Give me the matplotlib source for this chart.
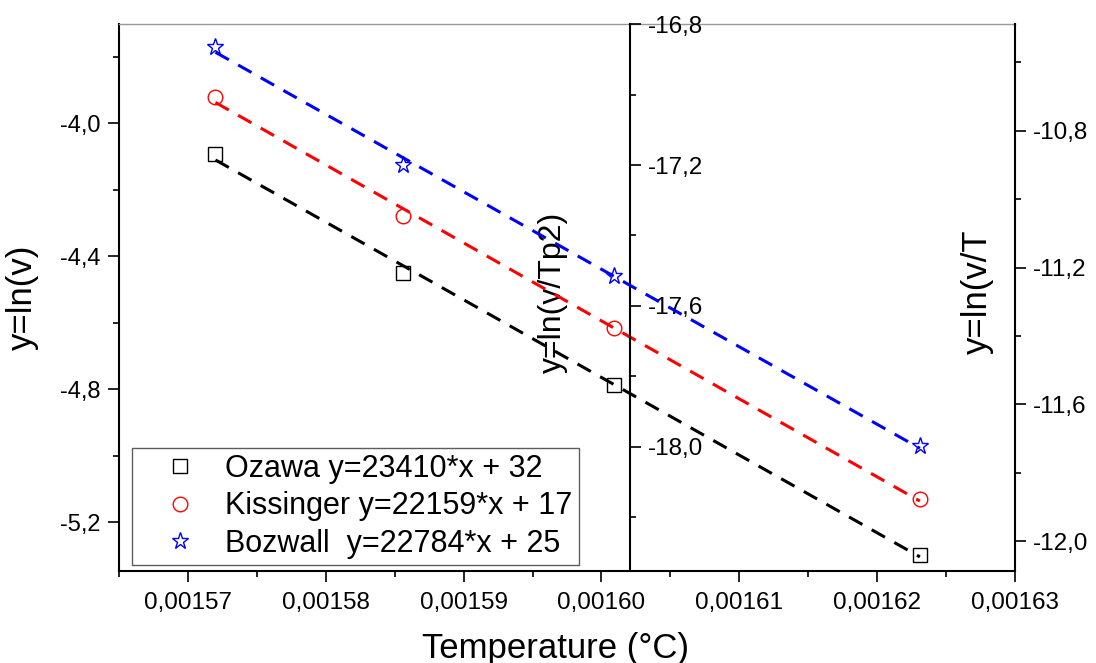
import numpy as np
import matplotlib
matplotlib.use("Agg")
import matplotlib.pyplot as plt
from matplotlib.ticker import MultipleLocator, FuncFormatter
from matplotlib.lines import Line2D

plt.rcParams['font.family'] = ['Liberation Sans', 'DejaVu Sans']

# Inverse peak temperature (x) and the three linearised rate quantities
inv_temp = [0.001572, 0.0015856, 0.0016009, 0.0016231]
ln_v = [-4.094, -4.451, -4.787, -5.298]          # Ozawa
ln_v_tp2 = [-17.007, -17.345, -17.662, -18.148]  # Kissinger
ln_v_t = [-10.555, -10.899, -11.226, -11.723]    # Bozwall

series_labels = ["Ozawa y=23410*x + 32",
                 "Kissinger y=22159*x + 17",
                 "Bozwall  y=22784*x + 25"]


def comma_fmt(decimals):
    return FuncFormatter(lambda v, p: f"{v:.{decimals}f}".replace('.', ','))


fig = plt.figure(figsize=(10.96, 6.63), dpi=100)
ax = fig.add_axes([119 / 1096, 92 / 663, 896 / 1096, 547 / 663])
ax_mid = ax.twinx()
ax_right = ax.twinx()

TICK_FS = 17.5
LABEL_FS = 25
LEGEND_FS = 22
dash = (0, (5, 3.5))

x = np.array(inv_temp)
specs = [
    (ax, ln_v, 'black', 's', 10),
    (ax_mid, ln_v_tp2, '#ff0000', 'o', 10.5),
    (ax_right, ln_v_t, '#0000ff', '*', 12.5),
]
handles = []
for a, yv, col, mk, ms in specs:
    yv = np.array(yv)
    k, b = np.polyfit(x, yv, 1)
    xx = np.array([x[0], x[-1]])
    a.plot(xx, k * xx + b, color=col, lw=2.2, linestyle=dash, zorder=2)
    a.plot(x, yv, linestyle='none', marker=mk, ms=ms, mfc='none',
           mec=col, mew=1.0, zorder=3)
    handles.append(Line2D([], [], linestyle='none', marker=mk, ms=ms,
                          mfc='none', mec=col, mew=1.0))

# Shared x axis
ax.set_xlim(0.001565, 0.00163)
ax.xaxis.set_major_locator(MultipleLocator(0.00001))
ax.xaxis.set_minor_locator(MultipleLocator(0.000005))
ax.xaxis.set_major_formatter(comma_fmt(5))
ax.set_xlabel("Temperature (°C)", fontsize=LABEL_FS, va='center')
ax.xaxis.set_label_coords(0.487, -0.141)

# Left axis: ln(v)
ax.set_ylim(-5.347, -3.702)
ax.yaxis.set_major_locator(MultipleLocator(0.4))
ax.yaxis.set_minor_locator(MultipleLocator(0.2))
ax.yaxis.set_major_formatter(comma_fmt(1))
ax.set_ylabel("y=ln(v)", fontsize=LABEL_FS, va='center')
ax.yaxis.set_label_coords(-0.108, 0.5)

# Middle axis: ln(v/Tp^2), spine placed inside the frame
ax_mid.set_ylim(-18.352, -16.7999)
ax_mid.spines['right'].set_position(('axes', 511 / 896))
ax_mid.yaxis.set_major_locator(MultipleLocator(0.4))
ax_mid.yaxis.set_minor_locator(MultipleLocator(0.2))
ax_mid.yaxis.set_major_formatter(comma_fmt(1))
ax_mid.set_ylabel("y=ln(v/Tp2)", fontsize=23, va='center', ha='center',
                  rotation=90)
ax_mid.yaxis.set_label_coords(0.484, 0.51)

# Right axis: ln(v/T)
ax_right.set_ylim(-12.0876, -10.4876)
ax_right.yaxis.set_major_locator(MultipleLocator(0.4))
ax_right.yaxis.set_minor_locator(MultipleLocator(0.2))
ax_right.yaxis.set_major_formatter(comma_fmt(1))
ax_right.set_ylabel("y=ln(v/T", fontsize=LABEL_FS, va='center', ha='center',
                    rotation=90)
ax_right.yaxis.set_label_coords(0.9576, 0.51)

for a in (ax, ax_mid, ax_right):
    a.tick_params(which='major', direction='out', length=8, width=1.2,
                  labelsize=TICK_FS, pad=5)
    a.tick_params(which='minor', direction='out', length=4.5, width=1.2)
    for s in a.spines.values():
        s.set_linewidth(1.5)
ax.tick_params(axis='x', which='major', pad=7)
ax.tick_params(axis='y', which='major', labelsize=17)

ax.spines['right'].set_visible(False)
ax.spines['top'].set_color('#999999')
ax.spines['top'].set_linewidth(1.0)
for a in (ax_mid, ax_right):
    a.spines['top'].set_visible(False)
    a.spines['bottom'].set_visible(False)
    a.spines['left'].set_visible(False)

leg = ax_right.legend(handles, series_labels, loc='lower left',
                      bbox_to_anchor=(13 / 896, 6 / 547), borderaxespad=0,
                      fontsize=LEGEND_FS, frameon=True, fancybox=False,
                      handlelength=2.75, handletextpad=0.1, borderpad=0.2,
                      labelspacing=0.25, numpoints=1)
leg.get_frame().set_edgecolor('#333333')
leg.get_frame().set_linewidth(1.0)

fig.savefig("out.png", dpi=100)
